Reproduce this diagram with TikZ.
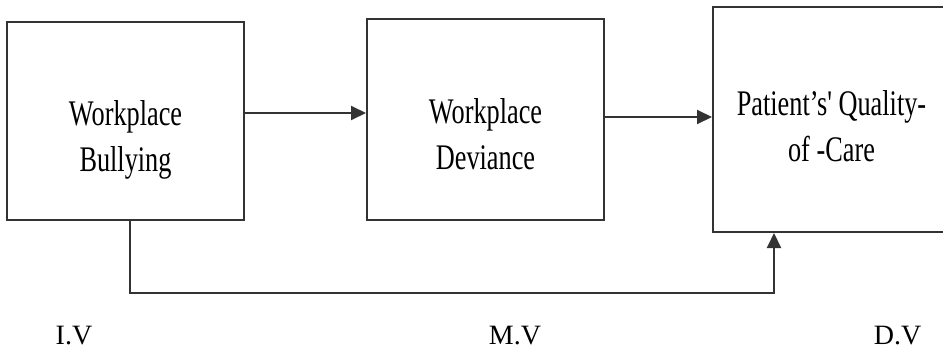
\documentclass[tikz,border=0pt]{standalone}
\usepackage{fontspec}
\setmainfont{Liberation Serif}
\newfontfamily\condfont[FakeStretch=0.73]{Liberation Serif}
\usetikzlibrary{arrows.meta}
\begin{document}
\begin{tikzpicture}[x=1pt,y=-1pt,
  box/.style={draw=black!80, line width=2pt, fill=white, inner sep=0pt},
  boxtext/.style={font=\condfont\fontsize{36}{46}\selectfont, align=center, inner sep=0pt, anchor=north},
  vlabel/.style={font=\fontsize{28}{30}\selectfont, inner sep=0pt, anchor=base},
  arr/.style={draw=black!80, line width=2pt, -{Triangle[length=15pt,width=14pt]}}]
\useasboundingbox (0,0) rectangle (943,351);
\begin{scope}
\clip (0,0) rectangle (943,351);
\node[box, minimum width=237pt, minimum height=198pt] (b1) at (125.5,121) {};
\node[box, minimum width=237pt, minimum height=201pt] (b2) at (485.5,119.5) {};
\node[box, minimum width=247pt, minimum height=225pt] (b3) at (836.5,119.5) {};
\end{scope}
\node[boxtext] (t1) at (125.5,100.5) {Workplace\\Bullying};
\node[boxtext] (t2) at (485.5,98.5) {Workplace\\Deviance};
\node[boxtext] (t3) at (831.5,90.5) {Patient’s' Quality-\\of -Care};
\coordinate (a1) at (0,113);
\coordinate (a2) at (0,117);
\coordinate (c1) at (130,0);
\coordinate (c2) at (130,293);
\coordinate (c3) at (774,293);
\coordinate (c4) at (774,0);
\draw[arr] (b1.east |- a1) -- (b2.west |- a1);
\draw[arr] (b2.east |- a2) -- (b3.west |- a2);
\draw[arr] (c1 |- b1.south) -- (c2) -- (c3) -- (c4 |- b3.south);
\node[vlabel] (iv) at (74,344) {I.V};
\node[vlabel] (mv) at (515,344) {M.V};
\node[vlabel] (dv) at (897.5,344) {D.V};
\end{tikzpicture}
\end{document}
